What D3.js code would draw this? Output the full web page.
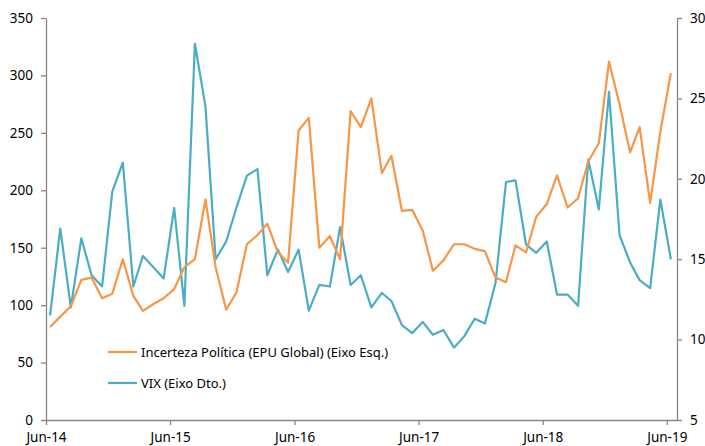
<!DOCTYPE html>
<html><head><meta charset="utf-8">
<script src="https://cdn.jsdelivr.net/npm/d3@7"></script>
<style>
body{margin:0;background:#fff;}
text{font-family:"Noto Sans",sans-serif;fill:#000;}
</style></head>
<body><svg id="c" width="705" height="446"></svg>
<script>
// Monthly data, Jun-2014 .. Jun-2019
const startMonth = "2014-06";
const epu = [81,90,99,122,124,106,110,140,108,95,101,106,114,133,140,192,133,96,111,153,161,171,146,137,252,263,150,160,140,269,255,280,215,230,182,183,165,130,139,153,153,149,147,124,120,152,146,177,188,213,185,193,225,241,312,275,233,255,189,251,302];
const vix = [11.5,16.9,12.0,16.3,14.0,13.3,19.2,21.0,13.3,15.2,14.5,13.8,18.2,12.1,28.4,24.5,15.0,16.1,18.2,20.2,20.6,14.0,15.6,14.2,15.6,11.8,13.4,13.3,17.0,13.4,14.0,12.0,12.9,12.4,10.9,10.4,11.1,10.3,10.6,9.5,10.2,11.3,11.0,13.5,19.8,19.9,15.9,15.4,16.1,12.8,12.8,12.1,21.2,18.1,25.4,16.5,14.8,13.7,13.2,18.7,15.0];
const leftTicks = [0,50,100,150,200,250,300,350];
const rightTicks = [5,10,15,20,25,30];
const xTickYears = [2014,2015,2016,2017,2018,2019];
const seriesNames = ["Incerteza Política (EPU Global) (Eixo Esq.)","VIX (Eixo Dto.)"];

const svg = d3.select("#c");
const L = 46, R = 677, T = 18, B = 420;
const parse = d3.timeParse("%Y-%m");
const d0 = parse(startMonth);
const dates = epu.map((_, i) => { const d = d3.timeMonth.offset(d0, i); return d3.timeDay.offset(d, 12); });

const x = d3.scaleTime().domain([d0, d3.timeMonth.offset(d0, 61)]).range([L, R]);
const yL = d3.scaleLinear().domain([0, 350]).range([B, T]);
const yR = d3.scaleLinear().domain([5, 30]).range([B, T]);

const axisColor = "#868686";
function styleAxis(g){
  g.select(".domain").attr("stroke", axisColor).attr("stroke-width", 1.3);
  g.selectAll(".tick line").attr("stroke", axisColor).attr("stroke-width", 1.3);
  g.selectAll(".tick text").style("font-family", '"Noto Sans",sans-serif').style("font-size", "13.5px").attr("fill", "#000");
}

const gl = svg.append("g").attr("transform", `translate(${L},0)`)
  .call(d3.axisLeft(yL).tickValues(leftTicks).tickSize(5).tickSizeOuter(0).tickPadding(8));
styleAxis(gl);
const gr = svg.append("g").attr("transform", `translate(${R},0)`)
  .call(d3.axisRight(yR).tickValues(rightTicks).tickSize(5).tickSizeOuter(0).tickPadding(8));
styleAxis(gr);
const gx = svg.append("g").attr("transform", `translate(0,${B})`)
  .call(d3.axisBottom(x).tickValues(xTickYears.map(y => new Date(y, 5, 1))).tickFormat(d3.timeFormat("%b-%y")).tickSize(5).tickSizeOuter(0).tickPadding(7));
styleAxis(gx);

const orange = "#f79646", blue = "#4bacc6";
const lineL = d3.line().x((d, i) => x(dates[i])).y(d => yL(d));
const lineR = d3.line().x((d, i) => x(dates[i])).y(d => yR(d));
svg.append("path").datum(vix).attr("d", lineR).attr("fill", "none").attr("stroke", blue).attr("stroke-width", 2.2).attr("stroke-linejoin", "round");
svg.append("path").datum(epu).attr("d", lineL).attr("fill", "none").attr("stroke", orange).attr("stroke-width", 2.2).attr("stroke-linejoin", "round");

// legend
const leg = svg.append("g");
[[orange, 352], [blue, 383]].forEach(([c, yy], i) => {
  leg.append("line").attr("x1", 108).attr("x2", 137).attr("y1", yy).attr("y2", yy).attr("stroke", c).attr("stroke-width", 2.2);
  leg.append("text").attr("x", 141).attr("y", yy + 5).style("font-size", "13px").text(seriesNames[i]);
});
</script></body></html>
